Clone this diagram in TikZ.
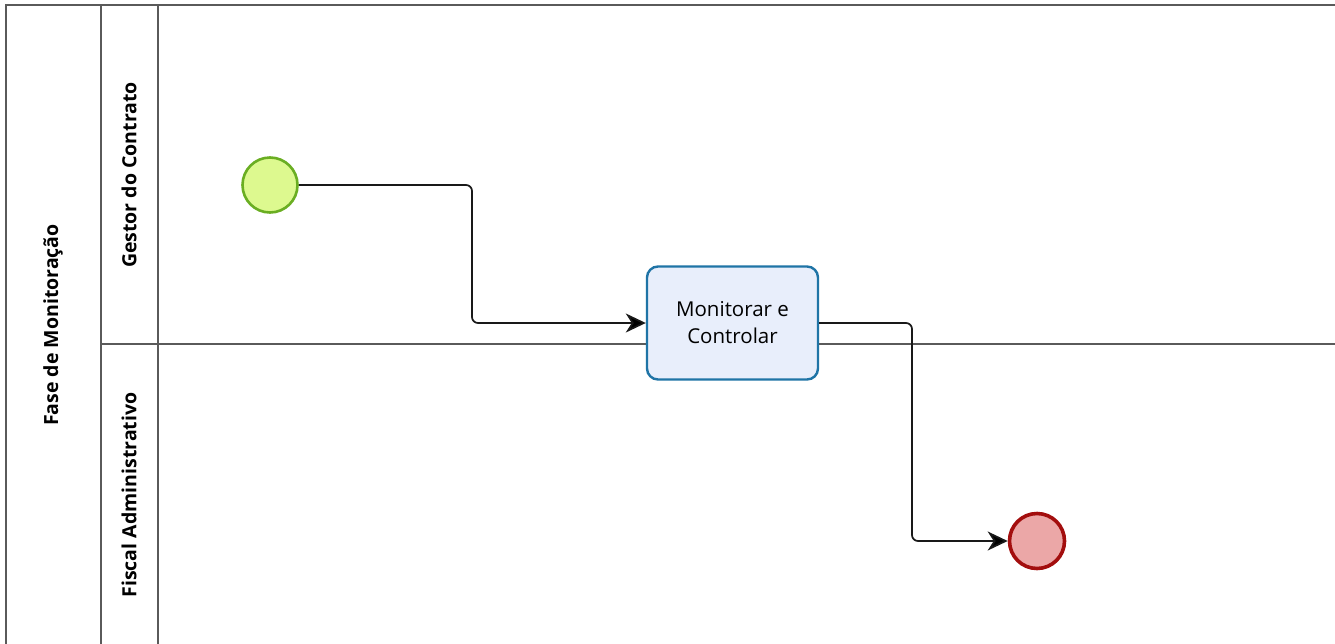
\documentclass[tikz,border=0pt]{standalone}
\usepackage{fontspec}
\setmainfont{Open Sans}
\usetikzlibrary{arrows.meta}
\definecolor{poolline}{HTML}{5A5A5A}
\definecolor{startfill}{HTML}{DDF98F}
\definecolor{startline}{HTML}{6AAE22}
\definecolor{taskfill}{HTML}{E8EEFB}
\definecolor{taskline}{HTML}{1F74A6}
\definecolor{endfill}{HTML}{EBA7A7}
\definecolor{endline}{HTML}{A30E0E}
\begin{document}
\begin{tikzpicture}[x=1pt,y=-1pt,
  lanebar/.style={draw=poolline,line width=1.4pt},
  lanetitle/.style={rotate=90,font=\bfseries\fontsize{19.5}{22}\selectfont,text=black},
  startev/.style={circle,draw=startline,fill=startfill,line width=2.6pt,minimum size=55pt,inner sep=0pt},
  endev/.style={circle,draw=endline,fill=endfill,line width=3.6pt,minimum size=55pt,inner sep=0pt},
  taskbox/.style={rectangle,rounded corners=11pt,draw=taskline,fill=taskfill,line width=2.4pt,
    minimum width=171pt,minimum height=113pt,align=center,font=\fontsize{20.5}{27}\selectfont},
  flow/.style={draw=black!90,line width=1.7pt,rounded corners=6pt,
    -{Stealth[length=20pt,width=19pt,inset=6pt,fill=black]}}]
\useasboundingbox (0,0) rectangle (1335,643);
\fill[white] (0,0) rectangle (1335,643);
% pool and lane frame
\draw[lanebar] (6,650) -- (6,5) -- (1340,5);
\draw[lanebar] (101,5) -- (101,650);
\draw[lanebar] (158,5) -- (158,650);
\draw[lanebar] (101,344) -- (1340,344);
% titles
\node[lanetitle] (pool) at (53,325) {Fase de Monitoração};
\node[lanetitle] (lane1) at (129,175) {Gestor do Contrato};
\node[lanetitle] (lane2) at (129,495) {Fiscal Administrativo};
% flow elements
\node[startev] (start) at (270,185) {};
\node[taskbox] (task) at (732.5,323) {Monitorar e\\Controlar};
\node[endev] (finish) at (1037,541) {};
% sequence flows
\draw[flow] (start.east) -- (472,185) -- (472,323) -- (task.west);
\draw[flow] (task.east) -- (912,323) -- (912,541) -- (finish.west);
\end{tikzpicture}
\end{document}
